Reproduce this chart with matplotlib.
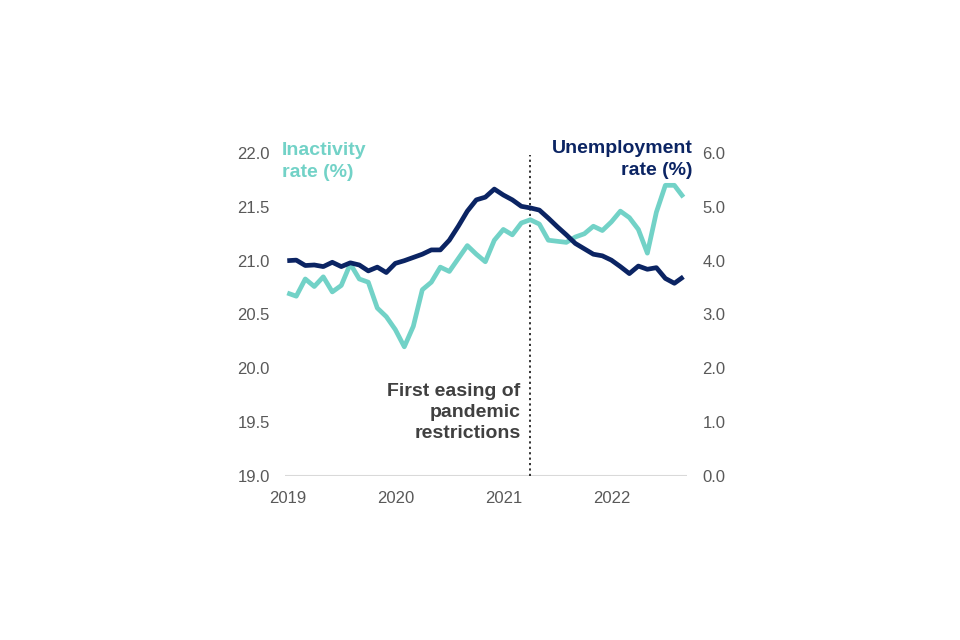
import matplotlib
matplotlib.use("Agg")
import matplotlib.pyplot as plt

plt.rcParams["font.family"] = ["Liberation Sans", "DejaVu Sans"]

# monthly values, Jan 2019 to Sep 2022
inactivity = [
    20.70, 20.67, 20.83, 20.76, 20.85, 20.71, 20.77, 20.97, 20.83, 20.80,
    20.56, 20.48, 20.36, 20.20, 20.39, 20.73, 20.80, 20.94, 20.90, 21.02,
    21.14, 21.06, 20.99, 21.19, 21.29, 21.24, 21.35, 21.38, 21.34, 21.19,
    21.18, 21.17, 21.22, 21.25, 21.32, 21.28, 21.36, 21.46, 21.40, 21.29,
    21.07, 21.45, 21.70, 21.70, 21.59,
]
unemployment = [
    4.00, 4.01, 3.91, 3.92, 3.89, 3.97, 3.89, 3.96, 3.92, 3.81,
    3.88, 3.78, 3.95, 4.00, 4.06, 4.12, 4.20, 4.20, 4.38, 4.64,
    4.92, 5.13, 5.18, 5.33, 5.22, 5.13, 5.01, 4.98, 4.94, 4.79,
    4.63, 4.48, 4.32, 4.22, 4.12, 4.09, 4.01, 3.89, 3.76, 3.90,
    3.84, 3.87, 3.67, 3.58, 3.70,
]
months = list(range(len(inactivity)))
year_ticks = [0, 12, 24, 36]
year_labels = ["2019", "2020", "2021", "2022"]
easing_month = 27  # April 2021

teal = "#72D2C7"
navy = "#0B2463"
grey = "#595959"

fig = plt.figure(figsize=(9.6, 6.4), dpi=100)
ax = fig.add_axes([0.2969, 0.2563, 0.4187, 0.5046])
ax2 = ax.twinx()

ax.plot(months, inactivity, color=teal, lw=3.4, solid_capstyle="butt", zorder=2)
ax2.plot(months, unemployment, color=navy, lw=3.4, solid_capstyle="butt", zorder=3)

ax.set_xlim(-0.25, 44.4)
ax.set_ylim(19.0, 22.0)
ax2.set_ylim(0.0, 6.0)
ax.set_yticks([19.0, 19.5, 20.0, 20.5, 21.0, 21.5, 22.0])
ax2.set_yticks([0, 1, 2, 3, 4, 5, 6])
ax.set_yticklabels([f"{v:.1f}" for v in ax.get_yticks()])
ax2.set_yticklabels([f"{v:.1f}" for v in ax2.get_yticks()])
ax.set_xticks(year_ticks)
ax.set_xticklabels(year_labels)

for a in (ax, ax2):
    for s in ("top", "left", "right", "bottom"):
        a.spines[s].set_visible(False)
    a.tick_params(length=0, labelsize=12, colors=grey)
ax.tick_params(axis="y", pad=11)
ax2.tick_params(axis="y", pad=11)
ax.tick_params(axis="x", pad=11)
ax.axhline(19.0, color="#D9D9D9", lw=1.5, zorder=1)

# dotted marker for the first easing of restrictions
ax.axvline(easing_month, ymin=0, ymax=0.995, color="#222222", lw=1.3,
           linestyle=(0, (1.2, 1.8)), zorder=1)
ax.text(easing_month - 1.1, 19.86, "First easing of\npandemic\nrestrictions",
        ha="right", va="top", fontsize=14, fontweight="bold", color="#404040",
        linespacing=1.3)

ax.text(-0.6, 22.1, "Inactivity\nrate (%)", ha="left", va="top",
        fontsize=14, fontweight="bold", color=teal, linespacing=1.35)
ax.text(45.0, 22.12, "Unemployment\nrate (%)", ha="right", va="top",
        fontsize=14, fontweight="bold", color=navy, linespacing=1.35)

fig.savefig("out.png", dpi=100)
